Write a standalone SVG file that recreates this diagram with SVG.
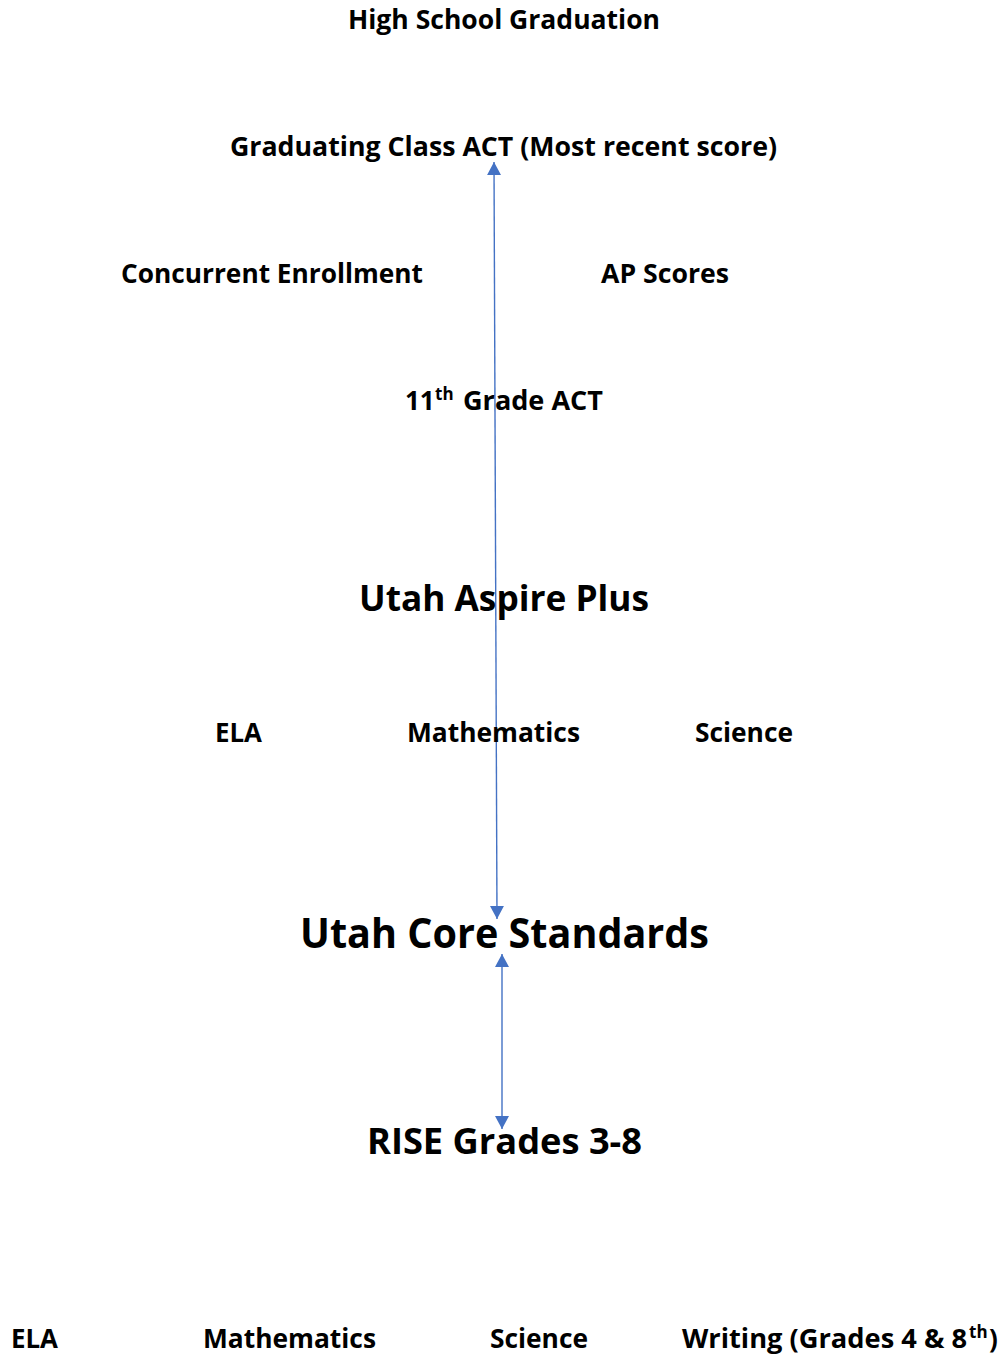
<svg xmlns="http://www.w3.org/2000/svg" width="1005" height="1356" viewBox="0 0 1005 1356">
<style>
text{font-family:"Open Sans","Liberation Sans",sans-serif;font-weight:700;fill:#000}
.s{font-size:26px}
.m{font-size:36px}
.l{font-size:41px}
.sup{font-size:17px}
.c{stroke:#4472C4;stroke-width:1.4;fill:none}
</style>
<defs>
<marker id="ah" viewBox="0 0 13 14" refX="13" refY="7" markerWidth="13" markerHeight="14" markerUnits="userSpaceOnUse" orient="auto-start-reverse">
<path d="M0,0L13,7L0,14Z" fill="#4472C4"/>
</marker>
</defs>
<rect width="1005" height="1356" fill="#fff"/>
<g id="connectors">
<line class="c" x1="494" y1="162" x2="497" y2="919" marker-start="url(#ah)" marker-end="url(#ah)"/>
<line class="c" x1="502" y1="954" x2="502" y2="1129" marker-start="url(#ah)" marker-end="url(#ah)"/>
</g>
<g id="hs-graduation"><text class="s" x="348" y="29" textLength="312" lengthAdjust="spacingAndGlyphs">High School Graduation</text></g>
<g id="graduating-act"><text class="s" x="230" y="156" textLength="547" lengthAdjust="spacingAndGlyphs">Graduating Class ACT (Most recent score)</text></g>
<g id="concurrent"><text class="s" x="121" y="283" textLength="302" lengthAdjust="spacingAndGlyphs">Concurrent Enrollment</text></g>
<g id="ap-scores"><text class="s" x="601" y="283" textLength="128" lengthAdjust="spacingAndGlyphs">AP Scores</text></g>
<g id="act-11"><text class="s" y="410"><tspan x="405">11</tspan><tspan class="sup" x="435" y="400">th</tspan><tspan x="463" y="410" textLength="140" lengthAdjust="spacingAndGlyphs">Grade ACT</tspan></text></g>
<g id="aspire"><text class="m" x="359" y="611" textLength="290" lengthAdjust="spacingAndGlyphs">Utah Aspire Plus</text></g>
<g id="aspire-ela"><text class="s" x="215" y="742" textLength="47" lengthAdjust="spacingAndGlyphs">ELA</text></g>
<g id="aspire-math"><text class="s" x="407" y="742" textLength="173" lengthAdjust="spacingAndGlyphs">Mathematics</text></g>
<g id="aspire-sci"><text class="s" x="695" y="742" textLength="98" lengthAdjust="spacingAndGlyphs">Science</text></g>
<g id="core"><text class="l" x="300" y="948" textLength="409" lengthAdjust="spacingAndGlyphs">Utah Core Standards</text></g>
<g id="rise"><text class="m" x="367" y="1154" textLength="275" lengthAdjust="spacingAndGlyphs">RISE Grades 3-8</text></g>
<g id="rise-ela"><text class="s" x="11" y="1348" textLength="47" lengthAdjust="spacingAndGlyphs">ELA</text></g>
<g id="rise-math"><text class="s" x="203" y="1348" textLength="173" lengthAdjust="spacingAndGlyphs">Mathematics</text></g>
<g id="rise-sci"><text class="s" x="490" y="1348" textLength="98" lengthAdjust="spacingAndGlyphs">Science</text></g>
<g id="rise-writing"><text class="s" y="1348"><tspan x="682" textLength="285" lengthAdjust="spacingAndGlyphs">Writing (Grades 4 &amp; 8</tspan><tspan class="sup" x="969" y="1338">th</tspan><tspan x="989" y="1348">)</tspan></text></g>
</svg>
